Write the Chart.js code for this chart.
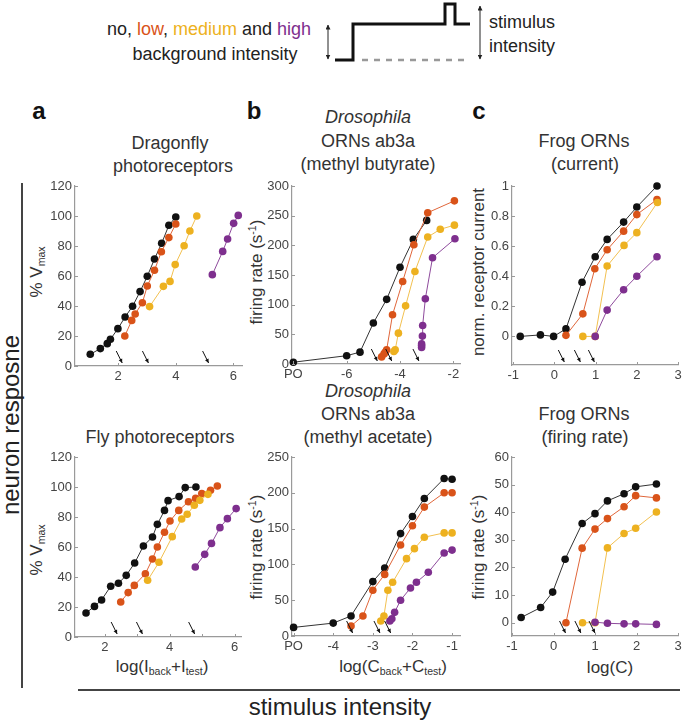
<!DOCTYPE html>
<html>
<head>
<meta charset="utf-8">
<script src="https://cdn.jsdelivr.net/npm/chart.js@4.4.1/dist/chart.umd.min.js"></script>
<style>
body { margin:0; width:685px; height:722px; position:relative; background:#fff; overflow:hidden;
       font-family:"Liberation Sans", Arial, sans-serif; color:#333; }
canvas { position:absolute; }
.t { position:absolute; white-space:nowrap; transform:translate(-50%,-50%); line-height:1; }
.l { position:absolute; white-space:nowrap; line-height:1; transform:translateY(-50%); }
.r { position:absolute; white-space:nowrap; line-height:1; transform:translate(-50%,-50%) rotate(-90deg); }
sub { font-size:0.62em; vertical-align:-0.35em; line-height:0; }
sup { font-size:0.62em; vertical-align:0.55em; line-height:0; }
</style>
</head>
<body>

<!-- header / legend text -->
<div class="t" style="left:209px;top:29px;font-size:18px;color:#222">no, <span style="color:#d95319">low</span>, <span style="color:#edb120">medium</span> and <span style="color:#7e2f8e">high</span></div>
<div class="t" style="left:215px;top:54px;font-size:18px;color:#222">background intensity</div>
<div class="l" style="left:489px;top:22px;font-size:18px;color:#222">stimulus</div>
<div class="l" style="left:489px;top:46px;font-size:18px;color:#222">intensity</div>
<svg style="position:absolute;left:0;top:0" width="685" height="80">
  <defs>
    <marker id="ah" viewBox="0 0 10 10" refX="9" refY="5" markerWidth="5" markerHeight="5" orient="auto-start-reverse">
      <path d="M0,0 L10,5 L0,10 z" fill="#222"/>
    </marker>
  </defs>
  <line x1="328" y1="25" x2="328" y2="59" stroke="#222" stroke-width="1" marker-start="url(#ah)" marker-end="url(#ah)"/>
  <line x1="480" y1="6" x2="480" y2="59" stroke="#222" stroke-width="1" marker-start="url(#ah)" marker-end="url(#ah)"/>
  <polyline points="335,60 353,60 353,24 445,24 445,4 455,4 455,24 470,24" fill="none" stroke="#111" stroke-width="3"/>
  <line x1="362" y1="60" x2="470" y2="60" stroke="#999" stroke-width="2.5" stroke-dasharray="6,6"/>
</svg>

<!-- panel letters -->
<div class="t" style="left:39px;top:111px;font-size:24px;font-weight:bold;color:#111">a</div>
<div class="t" style="left:254px;top:111px;font-size:24px;font-weight:bold;color:#111">b</div>
<div class="t" style="left:479px;top:111px;font-size:24px;font-weight:bold;color:#111">c</div>

<!-- panel titles -->
<div class="t" style="left:170px;top:143px;font-size:18px">Dragonfly</div>
<div class="t" style="left:173px;top:166px;font-size:18px">photoreceptors</div>
<div class="t" style="left:368px;top:117px;font-size:18px;font-style:italic">Drosophila</div>
<div class="t" style="left:368px;top:141px;font-size:18px">ORNs ab3a</div>
<div class="t" style="left:368px;top:164px;font-size:18px">(methyl butyrate)</div>
<div class="t" style="left:584px;top:141px;font-size:18px">Frog ORNs</div>
<div class="t" style="left:585px;top:164px;font-size:18px">(current)</div>

<div class="t" style="left:160px;top:437px;font-size:18px">Fly photoreceptors</div>
<div class="t" style="left:368px;top:391px;font-size:18px;font-style:italic">Drosophila</div>
<div class="t" style="left:368px;top:414px;font-size:18px">ORNs ab3a</div>
<div class="t" style="left:368px;top:437px;font-size:18px">(methyl acetate)</div>
<div class="t" style="left:584px;top:414px;font-size:18px">Frog ORNs</div>
<div class="t" style="left:585px;top:437px;font-size:18px">(firing rate)</div>

<!-- y axis titles -->
<div class="r" style="left:36px;top:272px;font-size:17px">% V<sub>max</sub></div>
<div class="r" style="left:36px;top:550px;font-size:17px">% V<sub>max</sub></div>
<div class="r" style="left:256px;top:272px;font-size:17px">firing rate (s<sup>-1</sup>)</div>
<div class="r" style="left:256px;top:547px;font-size:17px">firing rate (s<sup>-1</sup>)</div>
<div class="r" style="left:478px;top:272px;font-size:17px">norm. receptor current</div>
<div class="r" style="left:478px;top:547px;font-size:17px">firing rate (s<sup>-1</sup>)</div>

<!-- x axis titles -->
<div class="t" style="left:162px;top:666px;font-size:17px">log(I<sub>back</sub>+I<sub>test</sub>)</div>
<div class="t" style="left:393px;top:666px;font-size:17px">log(C<sub>back</sub>+C<sub>test</sub>)</div>
<div class="t" style="left:610px;top:667px;font-size:17px">log(C)</div>

<!-- outer labels -->
<div style="position:absolute;left:21px;top:183px;width:2px;height:505px;background:#444"></div>
<div class="r" style="left:11px;top:425px;font-size:24px;color:#222">neuron resposne</div>
<div style="position:absolute;left:78px;top:689px;width:602px;height:2px;background:#444"></div>
<div class="t" style="left:340px;top:707px;font-size:24px;color:#222">stimulus intensity</div>

<canvas id="aTop"></canvas>
<canvas id="aBot"></canvas>
<canvas id="bTop"></canvas>
<canvas id="bBot"></canvas>
<canvas id="cTop"></canvas>
<canvas id="cBot"></canvas>

<script>
// colours for no / low / medium / high background
const dotColors = ['#111111', '#d95319', '#edb120', '#7e2f8e'];
const lineColors = ['#333333', '#e0663a', '#f2c050', '#8e4a9c'];

// a: dragonfly photoreceptors  [log(Iback+Itest), %Vmax]
const dragonflyNo = [[1.03,7.8],[1.38,11.6],[1.62,14.9],[1.73,17.8],[1.99,24.9],[2.24,32.7],[2.5,39.8],[2.76,49.6],[3.01,59.8],[3.26,71.3],[3.51,81.8],[3.76,93.8],[4.0,99.3]];
const dragonflyLow = [[2.23,20],[2.47,30.4],[2.59,34.7],[2.84,42.2],[3.01,53.3],[3.26,63.8],[3.5,76.2],[3.76,85.6],[4.0,94.7]];
const dragonflyMed = [[3.09,39.6],[3.57,53.1],[3.8,56.4],[3.98,67.6],[4.29,80.2],[4.49,90],[4.73,100]];
const dragonflyHigh = [[5.27,60.9],[5.63,76.4],[5.8,84.7],[6.01,95.1],[6.17,100.4]];
const dragonflyArrows = [2.14, 3.05, 5.14];

// a: fly photoreceptors
const flyNo = [[1.42,16],[1.68,20.4],[1.9,24.7],[2.18,33.8],[2.42,35.8],[2.66,41.1],[2.92,49.3],[3.19,60.7],[3.47,66.7],[3.62,75.1],[3.84,84.4],[3.95,90.9],[4.29,93.6],[4.48,99.6],[4.81,100]];
const flyLow = [[2.49,23.3],[2.72,29.6],[2.91,34.4],[3.25,42.2],[3.47,52],[3.62,60],[3.84,69.8],[4.01,77.3],[4.28,84.4],[4.58,90.2],[4.8,92.4],[4.99,95.6],[5.26,97.8],[5.47,100.7]];
const flyMed = [[3.32,37.8],[3.67,49.8],[4.08,66.9],[4.37,78.7],[4.54,81.8],[4.76,87.8],[4.93,91.1],[5.18,95.1]];
const flyHigh = [[4.79,46.7],[5.08,55.1],[5.29,62.4],[5.55,72.9],[5.78,78.9],[6.05,85.6]];
const flyArrows = [2.38, 3.16, 4.77];

// b: Drosophila ab3a, methyl butyrate  [log C, firing rate]
const butyrateNo = [[-8,3],[-6,14],[-5.5,20],[-5,69],[-4.5,109],[-4,163],[-3.5,210],[-3,242]];
const butyrateLow = [[-4.69,12],[-4.6,17],[-4.55,20],[-4.5,24],[-4.28,83],[-3.9,139],[-3.48,201],[-2.96,255],[-1.96,275]];
const butyrateMed = [[-4.23,21],[-4.18,24],[-4.06,52],[-3.79,98],[-3.44,156],[-2.96,214],[-2.49,227],[-1.96,234]];
const butyrateHigh = [[-3.19,28],[-3.19,31],[-3.19,34],[-3.16,47],[-3.15,65],[-3.05,110],[-2.78,179],[-1.94,211]];
const butyrateArrows = [-4.85, -4.31, -3.29];

// b: Drosophila ab3a, methyl acetate
const acetateNo = [[-5,12],[-4,18],[-3.55,28],[-3,76],[-2.7,95],[-2.3,143],[-2,167],[-1.7,192],[-1.2,220],[-1,219]];
const acetateLow = [[-3.55,14],[-3.25,28],[-3,64],[-2.7,86],[-2.3,127],[-2,154],[-1.7,180],[-1.2,200],[-1,200]];
const acetateMed = [[-2.8,21],[-2.72,28],[-2.62,64],[-2.5,75],[-2.15,108],[-1.95,122],[-1.7,138],[-1.2,144],[-1,144]];
const acetateHigh = [[-2.57,21],[-2.52,24],[-2.45,33],[-2.3,50],[-2.05,67],[-1.9,75],[-1.6,89],[-1.2,116],[-1,120]];
const acetateArrows = [-3.51, -2.82, -2.55];

// c: frog ORNs, receptor current  [log C, normalised current]
const currentNo = [[-0.83,0],[-0.34,0.01],[-0.02,0],[0.28,0.05],[0.67,0.36],[0.99,0.53],[1.28,0.645],[1.68,0.76],[2.0,0.86],[2.49,1.0]];
const currentLow = [[0.28,0.007],[0.69,0.15],[0.98,0.45],[1.28,0.576],[1.68,0.70],[2.0,0.81],[2.49,0.91]];
const currentMed = [[0.69,0],[0.99,0],[1.28,0.468],[1.69,0.605],[2.0,0.69],[2.5,0.89]];
const currentHigh = [[0.99,0],[1.28,0.175],[1.68,0.31],[2.0,0.40],[2.49,0.53]];
const currentArrows = [0.24, 0.63, 0.97];

// c: frog ORNs, firing rate
const frogRateNo = [[-0.78,1.9],[-0.31,5.5],[-0.02,11.1],[0.28,23],[0.69,35.9],[1.0,39.5],[1.3,44.1],[1.7,46.7],[1.98,49.2],[2.48,50.2]];
const frogRateLow = [[0.3,0],[0.69,27],[1.0,33.9],[1.3,37.7],[1.7,42],[1.98,46],[2.48,45.2]];
const frogRateMed = [[0.7,0],[1.0,0],[1.3,27.1],[1.7,32.3],[1.98,34.2],[2.48,40.1]];
const frogRateHigh = [[1.0,0.2],[1.3,-0.2],[1.7,-0.4],[1.98,-0.4],[2.48,-0.6]];
const frogRateArrows = [0.29, 0.66, 1.0];

// tick values
const ticksPctV = [0, 20, 40, 60, 80, 100, 120];
const ticksDragonflyX = [2, 4, 6];
const ticksFlyX = [2, 3, 4, 5, 6];
const ticksButyrateY = [0, 50, 100, 150, 200, 250, 300];
const ticksButyrateX = [-8, -6, -4, -2];
const ticksAcetateY = [0, 50, 100, 150, 200, 250];
const ticksAcetateX = [-5, -4, -3, -2, -1];
const ticksCurrentY = [0, 0.2, 0.4, 0.6, 0.8, 1];
const ticksFrogX = [-1, 0, 1, 2, 3];
const ticksFrogRateY = [0, 10, 20, 30, 40, 50, 60];

const Y_W = 45, X_H = 24, PAD_T = 12, PAD_R = 12;
const axisGray = '#9a9a9a';
const tickFont = { family: '"Liberation Sans", Arial, sans-serif', size: 13 };

// small inward ticks like the matlab axes
const inwardTicks = {
  id: 'inwardTicks',
  afterDraw(chart) {
    const { ctx, chartArea, scales } = chart;
    ctx.save();
    ctx.strokeStyle = axisGray;
    ctx.lineWidth = 1;
    scales.x.ticks.forEach(t => {
      const px = Math.round(scales.x.getPixelForValue(t.value)) + 0.5;
      ctx.beginPath(); ctx.moveTo(px, chartArea.bottom); ctx.lineTo(px, chartArea.bottom - 3); ctx.stroke();
    });
    scales.y.ticks.forEach(t => {
      const py = Math.round(scales.y.getPixelForValue(t.value)) + 0.5;
      ctx.beginPath(); ctx.moveTo(chartArea.left, py); ctx.lineTo(chartArea.left + 3, py); ctx.stroke();
    });
    ctx.restore();
  }
};

// little arrows that mark the background levels
const bgArrows = {
  id: 'bgArrows',
  afterDatasetsDraw(chart, args, opts) {
    if (!opts.xs) return;
    const { ctx, chartArea, scales } = chart;
    ctx.save();
    ctx.strokeStyle = '#111';
    ctx.fillStyle = '#111';
    ctx.lineWidth = 1;
    opts.xs.forEach(v => {
      const tx = scales.x.getPixelForValue(v);
      const ty = chartArea.bottom - 3;
      const sx = tx - 6, sy = ty - 12;
      ctx.beginPath(); ctx.moveTo(sx, sy); ctx.lineTo(tx, ty); ctx.stroke();
      const a = Math.atan2(ty - sy, tx - sx);
      ctx.beginPath();
      ctx.moveTo(tx, ty);
      ctx.lineTo(tx - 4.5 * Math.cos(a - 0.45), ty - 4.5 * Math.sin(a - 0.45));
      ctx.lineTo(tx - 4.5 * Math.cos(a + 0.45), ty - 4.5 * Math.sin(a + 0.45));
      ctx.closePath(); ctx.fill();
    });
    ctx.restore();
  }
};

function fmt(v) { return String(Math.round(v * 10) / 10); }

function makePanel(id, box, xr, yr, xt, yt, xlab, series, arrows) {
  const cv = document.getElementById(id);
  const w = box.r - box.l, h = box.b - box.t;
  cv.width = Y_W + w + PAD_R;
  cv.height = PAD_T + h + X_H;
  cv.style.left = (box.l - Y_W) + 'px';
  cv.style.top = (box.t - PAD_T) + 'px';

  const datasets = series.map((s, i) => ({
    data: s.map(p => ({ x: p[0], y: p[1] })),
    showLine: true,
    borderColor: lineColors[i],
    borderWidth: 1,
    backgroundColor: dotColors[i],
    pointBackgroundColor: dotColors[i],
    pointBorderWidth: 0,
    pointRadius: 3.8,
    clip: false,
    order: 3 - i
  }));

  new Chart(cv, {
    type: 'scatter',
    data: { datasets },
    plugins: [inwardTicks, bgArrows],
    options: {
      responsive: false,
      animation: false,
      events: [],
      layout: { padding: { top: PAD_T, right: PAD_R, left: 0, bottom: 0 }, autoPadding: false },
      plugins: { legend: { display: false }, tooltip: { enabled: false }, bgArrows: { xs: arrows } },
      scales: {
        x: {
          type: 'linear', min: xr[0], max: xr[1],
          afterBuildTicks: sc => { sc.ticks = xt.map(v => ({ value: v })); },
          afterFit: sc => { sc.height = X_H; },
          grid: { display: false, drawTicks: false },
          border: { color: axisGray, width: 1.2 },
          ticks: { color: '#444', font: tickFont, padding: 3, maxRotation: 0, autoSkip: false, callback: xlab }
        },
        y: {
          type: 'linear', min: yr[0], max: yr[1],
          afterBuildTicks: sc => { sc.ticks = yt.map(v => ({ value: v })); },
          afterFit: sc => { sc.width = Y_W; },
          grid: { display: false, drawTicks: false },
          border: { color: axisGray, width: 1.2 },
          ticks: { color: '#444', font: tickFont, padding: 3, autoSkip: false, callback: v => fmt(v) }
        }
      }
    }
  });
}

makePanel('aTop', { l: 75, t: 186, r: 242, b: 366 }, [0.5, 6.3], [0, 120], ticksDragonflyX, ticksPctV,
  v => fmt(v), [dragonflyNo, dragonflyLow, dragonflyMed, dragonflyHigh], dragonflyArrows);

makePanel('aBot', { l: 75, t: 457, r: 241, b: 637 }, [1.08, 6.2], [0, 120], ticksFlyX, ticksPctV,
  v => (Math.round(v) % 2 === 0 ? fmt(v) : ''), [flyNo, flyLow, flyMed, flyHigh], flyArrows);

makePanel('bTop', { l: 292, t: 186, r: 460, b: 364 }, [-8.05, -1.75], [0, 300], ticksButyrateX, ticksButyrateY,
  v => (v === -8 ? 'PO' : fmt(v)), [butyrateNo, butyrateLow, butyrateMed, butyrateHigh], butyrateArrows);

makePanel('bBot', { l: 292, t: 457, r: 460, b: 636 }, [-5.04, -0.8], [0, 250], ticksAcetateX, ticksAcetateY,
  v => (v === -5 ? 'PO' : fmt(v)), [acetateNo, acetateLow, acetateMed, acetateHigh], acetateArrows);

makePanel('cTop', { l: 512, t: 186, r: 678, b: 365 }, [-1.03, 3.0], [-0.19, 1], ticksFrogX, ticksCurrentY,
  v => fmt(v), [currentNo, currentLow, currentMed, currentHigh], currentArrows);

makePanel('cBot', { l: 512, t: 457, r: 678, b: 636 }, [-1, 3], [-4.8, 60], ticksFrogX, ticksFrogRateY,
  v => fmt(v), [frogRateNo, frogRateLow, frogRateMed, frogRateHigh], frogRateArrows);
</script>
</body>
</html>
